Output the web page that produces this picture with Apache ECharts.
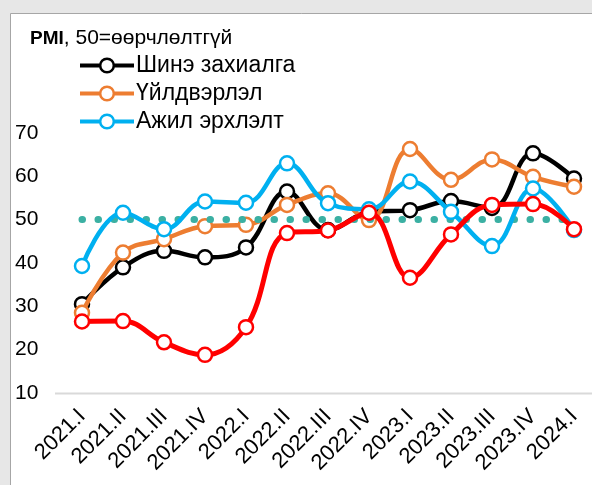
<!DOCTYPE html>
<html><head><meta charset="utf-8">
<script src="https://cdn.jsdelivr.net/npm/echarts@6/dist/echarts.min.js"></script>
<style>html,body{margin:0;padding:0;background:#e7e7e7}#c{width:592px;height:485px}</style>
</head><body><div id="c"></div>
<script>
var categories = ['2021.I','2021.II','2021.III','2021.IV','2022.I','2022.II','2022.III','2022.IV','2023.I','2023.II','2023.III','2023.IV','2024.I'];
var newOrders = [30.5, 39.0, 42.8, 41.3, 43.6, 56.5, 47.6, 51.8, 52.2, 54.3, 52.7, 65.3, 59.5];
var production = [28.5, 42.4, 45.5, 48.5, 48.8, 53.4, 56.1, 49.9, 66.3, 59.2, 63.9, 59.9, 57.6];
var employment = [39.3, 51.6, 47.8, 54.2, 53.9, 63.0, 53.8, 52.4, 58.8, 51.8, 43.9, 57.2, 47.6];
var redSeries = [26.5, 26.6, 21.7, 18.8, 25.2, 46.9, 47.5, 51.6, 36.6, 46.6, 53.4, 53.6, 47.8];
var yTicks = [10, 70, 10]; // min, max, interval
var breakEven = 50;

var FONT = 'Liberation Sans, Arial, sans-serif';
function mk(name, data, color, z, width) {
  return {
    name: name, type: 'line', data: data, smooth: 0.4, z: z,
    symbol: 'circle', symbolSize: 14,
    lineStyle: { color: color, width: width },
    itemStyle: { color: '#fff', borderColor: color, borderWidth: 2.5 },
    emphasis: { disabled: true }
  };
}
var sBlack = mk('Шинэ захиалга', newOrders, '#000000', 3, 4.5);
sBlack.markLine = {
  silent: true, symbol: 'none', label: { show: false },
  lineStyle: { color: '#3bb0a3', width: 7, type: [0.5, 15.5], cap: 'round' },
  data: [{ yAxis: breakEven }]
};
var option = {
  backgroundColor: '#e7e7e7',
  animation: false,
  graphic: [
    { type: 'rect', z: -100, shape: { x: 10.5, y: 13.5, width: 700, height: 600 },
      style: { fill: '#ffffff', stroke: '#a6a6a6', lineWidth: 1 } },
    { type: 'line', z: -50, shape: { x1: 55, y1: 393.5, x2: 592, y2: 393.5 },
      style: { stroke: '#d9d9d9', lineWidth: 2 } },
    { type: 'text', left: 30, top: 28,
      style: { text: '{b|PMI}, 50=өөрчлөлтгүй', font: '21px ' + FONT, fill: '#000',
        rich: { b: { fontWeight: 'bold', fontSize: 19, fontFamily: FONT } } } }
  ],
  grid: { left: 82, right: 18, top: 133, bottom: 92 },
  legend: {
    data: ['Шинэ захиалга', 'Үйлдвэрлэл', 'Ажил эрхлэлт'],
    orient: 'vertical', left: 73, top: 49, itemWidth: 54, itemHeight: 17, itemGap: 5,
    lineStyle: { width: 4 },
    itemStyle: { borderWidth: 2.5 },
    textStyle: { fontSize: 23, fontFamily: FONT, color: '#000', padding: [0, 0, 0, -3] }
  },
  xAxis: {
    type: 'category', data: categories, boundaryGap: false,
    axisLine: { show: false }, axisTick: { show: false },
    axisLabel: { rotate: 45, fontSize: 22, fontFamily: FONT, color: '#000', margin: 20, interval: 0 }
  },
  yAxis: {
    type: 'value', min: yTicks[0], max: yTicks[1], interval: yTicks[2],
    splitLine: { show: false }, axisLine: { show: false }, axisTick: { show: false },
    axisLabel: { fontSize: 21, fontFamily: FONT, color: '#000', margin: 67, align: 'left' }
  },
  series: [
    sBlack,
    mk('Үйлдвэрлэл', production, '#ed7d31', 4, 4.5),
    mk('Ажил эрхлэлт', employment, '#00b0f0', 5, 4.5),
    mk('Бусад', redSeries, '#ff0000', 6, 5)
  ]
};
var chart = echarts.init(document.getElementById('c'), null, { renderer: 'canvas' });
chart.setOption(option);
</script></body></html>
